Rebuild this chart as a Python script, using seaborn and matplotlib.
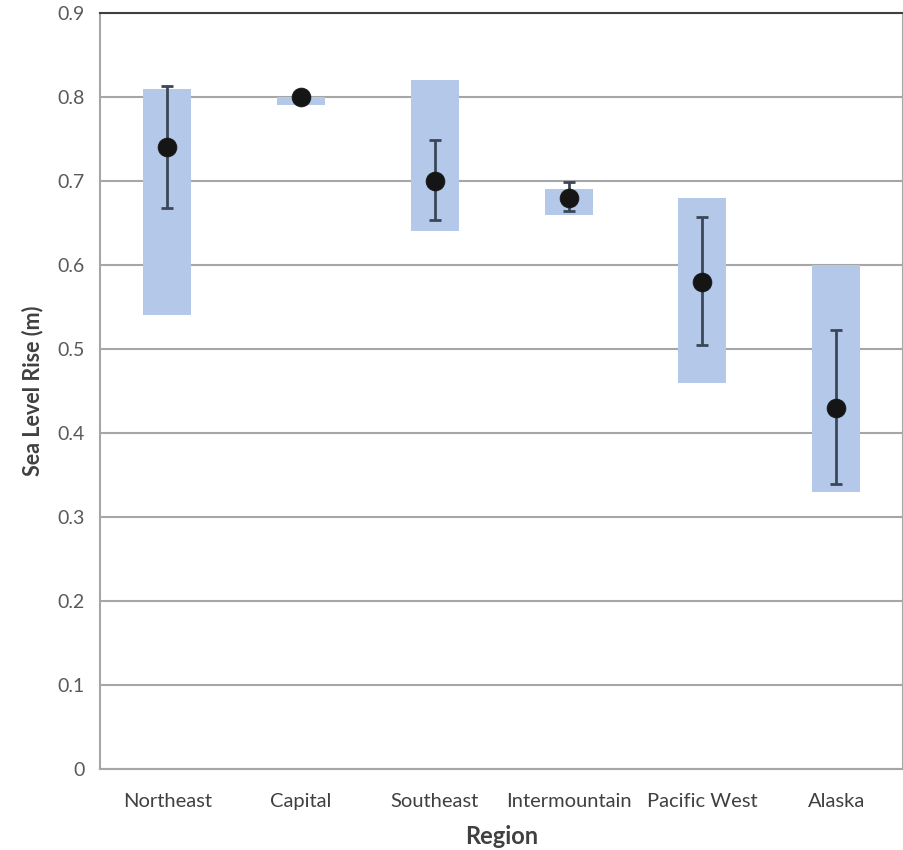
import numpy as np
import pandas as pd
import matplotlib
matplotlib.use("Agg")
import matplotlib.pyplot as plt
import seaborn as sns

regions = ["Northeast", "Capital", "Southeast", "Intermountain", "Pacific West", "Alaska"]
range_low = [0.54, 0.79, 0.64, 0.66, 0.46, 0.33]
range_high = [0.81, 0.80, 0.82, 0.69, 0.68, 0.60]
mean_rise = [0.74, 0.80, 0.70, 0.68, 0.58, 0.43]
err_low = [0.668, np.nan, 0.653, 0.664, 0.505, 0.339]
err_high = [0.813, np.nan, 0.749, 0.699, 0.657, 0.523]
y_ticks = [0, 0.1, 0.2, 0.3, 0.4, 0.5, 0.6, 0.7, 0.8, 0.9]
y_tick_labels = ["0", "0.1", "0.2", "0.3", "0.4", "0.5", "0.6", "0.7", "0.8", "0.9"]

sns.set_style("white")
plt.rcParams["font.family"] = ["Lato", "DejaVu Sans"]

df = pd.DataFrame({
    "Region": regions,
    "low": range_low,
    "high": range_high,
    "mean": mean_rise,
    "elo": err_low,
    "ehi": err_high,
})
df["span"] = df["high"] - df["low"]

fig = plt.figure(figsize=(9.04, 8.5), dpi=100)
ax = fig.add_axes([0.111, 0.0953, 0.888, 0.8894])

sns.barplot(data=df, x="Region", y="span", bottom=df["low"].values, color="#b4c9ea",
            saturation=1, width=0.36, ax=ax, zorder=2, linewidth=0)

xpos = np.arange(len(regions))
yerr = np.vstack([df["mean"] - df["elo"], df["ehi"] - df["mean"]])
ax.errorbar(xpos, df["mean"], yerr=yerr, fmt="none", ecolor="#3b4758",
            elinewidth=2, capsize=4.5, capthick=2, zorder=3)
sns.scatterplot(data=df, x="Region", y="mean", color="#151515", s=185,
                edgecolor="#151515", linewidth=0.5, ax=ax, zorder=4)

ax.set_ylim(0, 0.9)
ax.set_xlim(-0.5, len(regions) - 0.5)
ax.set_yticks(y_ticks)
ax.set_yticklabels(y_tick_labels)
ax.yaxis.grid(True, color="#a6a6a6", linewidth=1.5, zorder=0)
ax.set_axisbelow(True)

ax.set_xticks(xpos)
ax.set_xticklabels(regions)
ax.set_xticks(np.arange(-0.5, len(regions)), minor=True)
ax.tick_params(axis="x", which="major", length=0, pad=17, labelsize=14.5, labelcolor="#404040")
ax.tick_params(axis="x", which="minor", length=6, width=1.5, color="#a6a6a6", direction="out")
ax.tick_params(axis="y", which="major", length=6, width=1.5, color="#a6a6a6", direction="out",
               labelsize=14, labelcolor="#595959", pad=5)
ax.xaxis.set_tick_params(bottom=True)

for s in ["left", "bottom", "right"]:
    ax.spines[s].set_color("#a6a6a6")
    ax.spines[s].set_linewidth(1.5)
ax.spines["top"].set_color("#404040")
ax.spines["top"].set_linewidth(1.5)

ax.set_xlabel("Region", fontsize=17, fontweight="bold", color="#404040", labelpad=11)
ax.set_ylabel("Sea Level Rise (m)", fontsize=15.5, fontweight="bold", color="#404040", labelpad=10)

fig.savefig("out.png", dpi=100)
